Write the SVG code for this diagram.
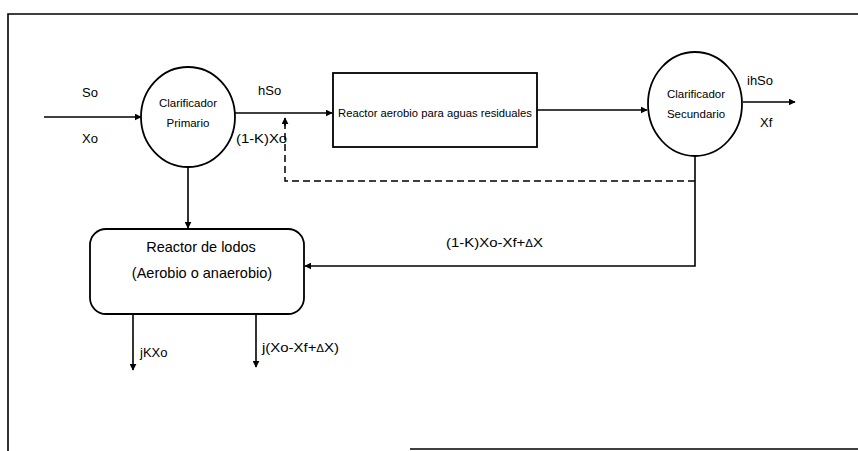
<svg xmlns="http://www.w3.org/2000/svg" width="858" height="451" viewBox="0 0 858 451">
<style>
  .ln { stroke:#000; stroke-width:1.6; fill:none; }
  .dash { stroke:#000; stroke-width:1.5; fill:none; stroke-dasharray:7 4; }
  .shape { stroke:#000; stroke-width:1.8; fill:#fff; }
  .t { font-family:"Liberation Sans", Arial, sans-serif; fill:#000; }
  .lbl { font-size:13px; }
  .sm { font-size:11.5px; }
  .big { font-size:14.5px; }
</style>
<defs>
  <marker id="arr" viewBox="0 0 10 10" refX="9" refY="5" markerWidth="7" markerHeight="7" markerUnits="userSpaceOnUse" orient="auto">
    <path d="M0,0 L10,5 L0,10 z" fill="#000"/>
  </marker>
</defs>
<rect width="858" height="451" fill="#fff"/>
<g id="frame">
  <path class="ln" d="M8,451 L8,14 L858,14"/>
  <path class="ln" d="M410,449 L858,449"/>
</g>
<g id="connectors">
  <path class="ln" d="M44,117 L141,117" marker-end="url(#arr)"/>
  <path class="ln" d="M235,113 L332,113" marker-end="url(#arr)"/>
  <path class="ln" d="M537,110 L647,110" marker-end="url(#arr)"/>
  <path class="ln" d="M743,102 L795,102" marker-end="url(#arr)"/>
  <path class="ln" d="M188,168 L188,228" marker-end="url(#arr)"/>
  <path class="dash" d="M695,181 L285,181 L285,120"/>
  <path class="ln" d="M285,126 L285,118" marker-end="url(#arr)"/>
  <path class="ln" d="M695,156 L695,266 L305,266" marker-end="url(#arr)"/>
  <path class="ln" d="M133,314 L133,370" marker-end="url(#arr)"/>
  <path class="ln" d="M256,314 L256,367" marker-end="url(#arr)"/>
</g>
<g id="clarificador-primario">
  <ellipse class="shape" cx="188" cy="117" rx="47" ry="50"/>
  <text class="t sm" x="188" y="107" text-anchor="middle">Clarificador</text>
  <text class="t sm" x="188" y="127" text-anchor="middle">Primario</text>
</g>
<g id="reactor-aerobio">
  <rect class="shape" x="333" y="73" width="204" height="74"/>
  <text class="t" font-size="11.5" x="338" y="117" textLength="194" lengthAdjust="spacingAndGlyphs">Reactor aerobio para aguas residuales</text>
</g>
<g id="clarificador-secundario">
  <ellipse class="shape" cx="695" cy="104" rx="47" ry="52"/>
  <text class="t sm" x="696" y="98" text-anchor="middle">Clarificador</text>
  <text class="t sm" x="696" y="118" text-anchor="middle">Secundario</text>
</g>
<g id="reactor-lodos">
  <rect class="shape" x="90" y="229" width="214" height="85" rx="16" ry="16"/>
  <text class="t big" x="201" y="252" text-anchor="middle">Reactor de lodos</text>
  <text class="t big" x="202" y="278" text-anchor="middle">(Aerobio o anaerobio)</text>
</g>
<g id="labels">
  <text class="t lbl" x="82" y="97">So</text>
  <text class="t lbl" x="82" y="143">Xo</text>
  <text class="t lbl" x="258" y="95">hSo</text>
  <text class="t lbl" x="236" y="143" textLength="51" lengthAdjust="spacingAndGlyphs">(1-K)Xo</text>
  <text class="t lbl" x="747" y="85">ihSo</text>
  <text class="t lbl" x="760" y="127">Xf</text>
  <text class="t lbl" x="446" y="247" textLength="97" lengthAdjust="spacingAndGlyphs">(1-K)Xo-Xf+<tspan font-size="10">Δ</tspan>X</text>
  <text class="t lbl" x="140" y="357">jKXo</text>
  <text class="t lbl" x="262" y="352" textLength="77" lengthAdjust="spacingAndGlyphs">j(Xo-Xf+<tspan font-size="10">Δ</tspan>X)</text>
</g>
</svg>
